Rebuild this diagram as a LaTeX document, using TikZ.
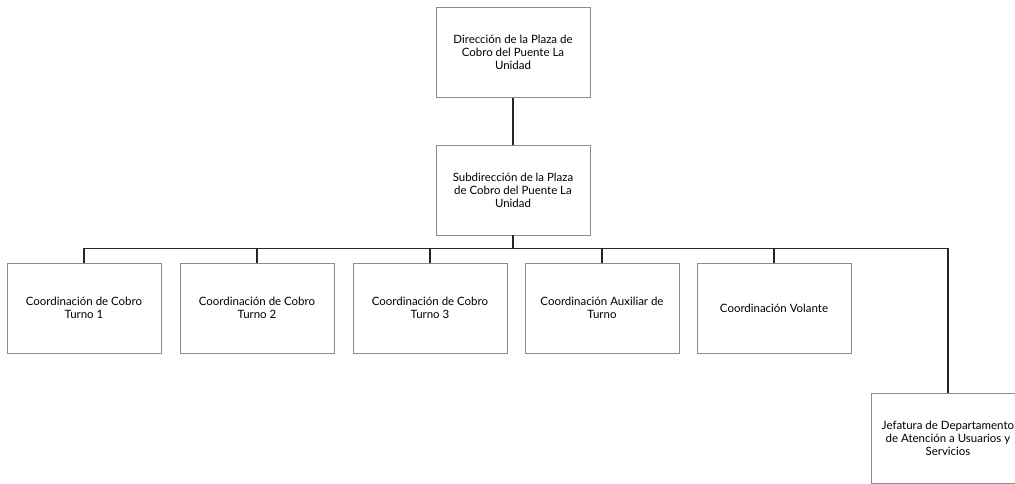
\documentclass[tikz,border=0pt]{standalone}
\usepackage{fontspec}
\setmainfont{Lato}

\tikzset{
  unit/.style={draw=black!45, line width=0.7pt, minimum width=115.5pt, minimum height=67.5pt,
    align=center, inner sep=2pt, font=\fontsize{8.6}{9.8}\selectfont},
  link/.style={draw=black!85, line width=0.9pt}
}

\begin{document}
\begin{tikzpicture}[x=0.75pt,y=-0.75pt]
  \useasboundingbox (0,0) rectangle (1015,483);
  \node[unit] (dir) at (513,52.5) {Dirección de la Plaza de\\Cobro del Puente La\\Unidad};
  \node[unit] (sub) at (513,190) {Subdirección de la Plaza\\de Cobro del Puente La\\Unidad};
  \coordinate (bus) at (513,248.5);
  \node[unit] (ct1) at (84,308) {Coordinación de Cobro\\Turno 1};
  \node[unit] (ct2) at (257,308) {Coordinación de Cobro\\Turno 2};
  \node[unit] (ct3) at (430,308) {Coordinación de Cobro\\Turno 3};
  \node[unit] (aux) at (602,308) {Coordinación Auxiliar de\\Turno};
  \node[unit] (vol) at (774,308) {Coordinación Volante};
  \node[unit] (jef) at (948,438) {Jefatura de Departamento\\de Atención a Usuarios y\\Servicios};
  % enlaces
  \draw[link] (dir) -- (sub);
  \draw[link] (sub) -- (bus);
  \draw[link] (ct1.north) |- (bus) -| (jef.north);
  \draw[link] (ct2.north) -- (ct2.north |- bus);
  \draw[link] (ct3.north) -- (ct3.north |- bus);
  \draw[link] (aux.north) -- (aux.north |- bus);
  \draw[link] (vol.north) -- (vol.north |- bus);
\end{tikzpicture}
\end{document}
